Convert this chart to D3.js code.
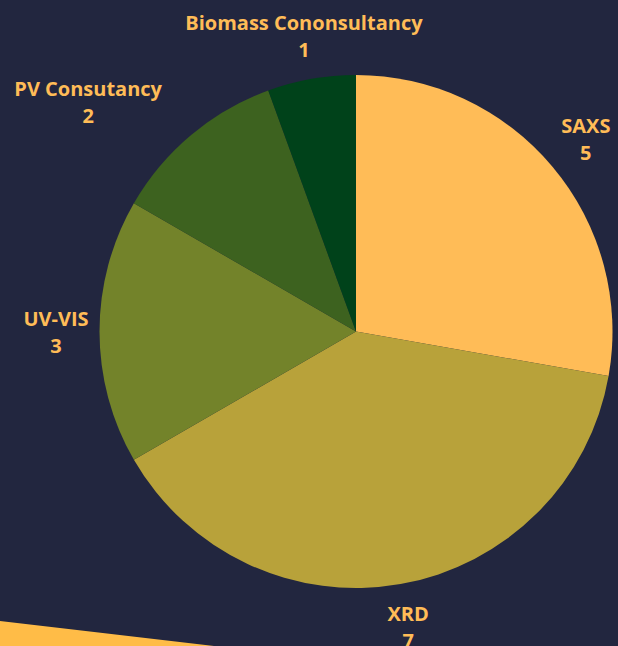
<!DOCTYPE html>
<html><head><meta charset="utf-8">
<script src="https://cdn.jsdelivr.net/npm/d3@7"></script>
<style>html,body{margin:0;padding:0;background:#22263f;}svg{display:block;}</style>
</head><body>
<svg id="c" width="618" height="646"></svg>
<script>
const categories = ["SAXS", "XRD", "UV-VIS", "PV Consutancy", "Biomass Cononsultancy"];
const values = [5, 7, 3, 2, 1];
const colors = ["#ffbc57", "#b8a23a", "#73832a", "#3d621f", "#00421a"];

const W = 618, H = 646, cx = 356, cy = 331.5, R = 256.5, LR = 300;
const svg = d3.select("#c");
svg.append("rect").attr("width", W).attr("height", H).attr("fill", "#22263f");
// decorative stripe
svg.append("polygon").attr("points", "0,621 214,646 0,646").attr("fill", "#ffbc47");

const data = categories.map((c, i) => ({cat: c, val: values[i], col: colors[i]}));
const pie = d3.pie().value(d => d.val).sort(null);
const arc = d3.arc().innerRadius(0).outerRadius(R);
const arcs = pie(data);
const g = svg.append("g").attr("transform", `translate(${cx},${cy})`);
g.selectAll("path").data(arcs).join("path").attr("d", arc).attr("fill", d => d.data.col);

const nudge = {"PV Consutancy": -75};
const lbl = g.selectAll("text").data(arcs).join("text")
  .attr("text-anchor", "middle")
  .attr("font-family", "'Open Sans', sans-serif")
  .attr("font-weight", "bold").attr("font-size", 20).attr("fill", "#ffbc57")
  .attr("transform", d => {
    const a = (d.startAngle + d.endAngle) / 2;
    const x = LR * Math.sin(a) + (nudge[d.data.cat] || 0), y = -LR * Math.cos(a);
    return `translate(${x},${y})`;
  });
lbl.append("tspan").attr("x", 0).attr("y", -11).attr("dominant-baseline", "middle").text(d => d.data.cat);
lbl.append("tspan").attr("x", 0).attr("y", 16).attr("dominant-baseline", "middle").text(d => d.data.val);
</script>
</body></html>
